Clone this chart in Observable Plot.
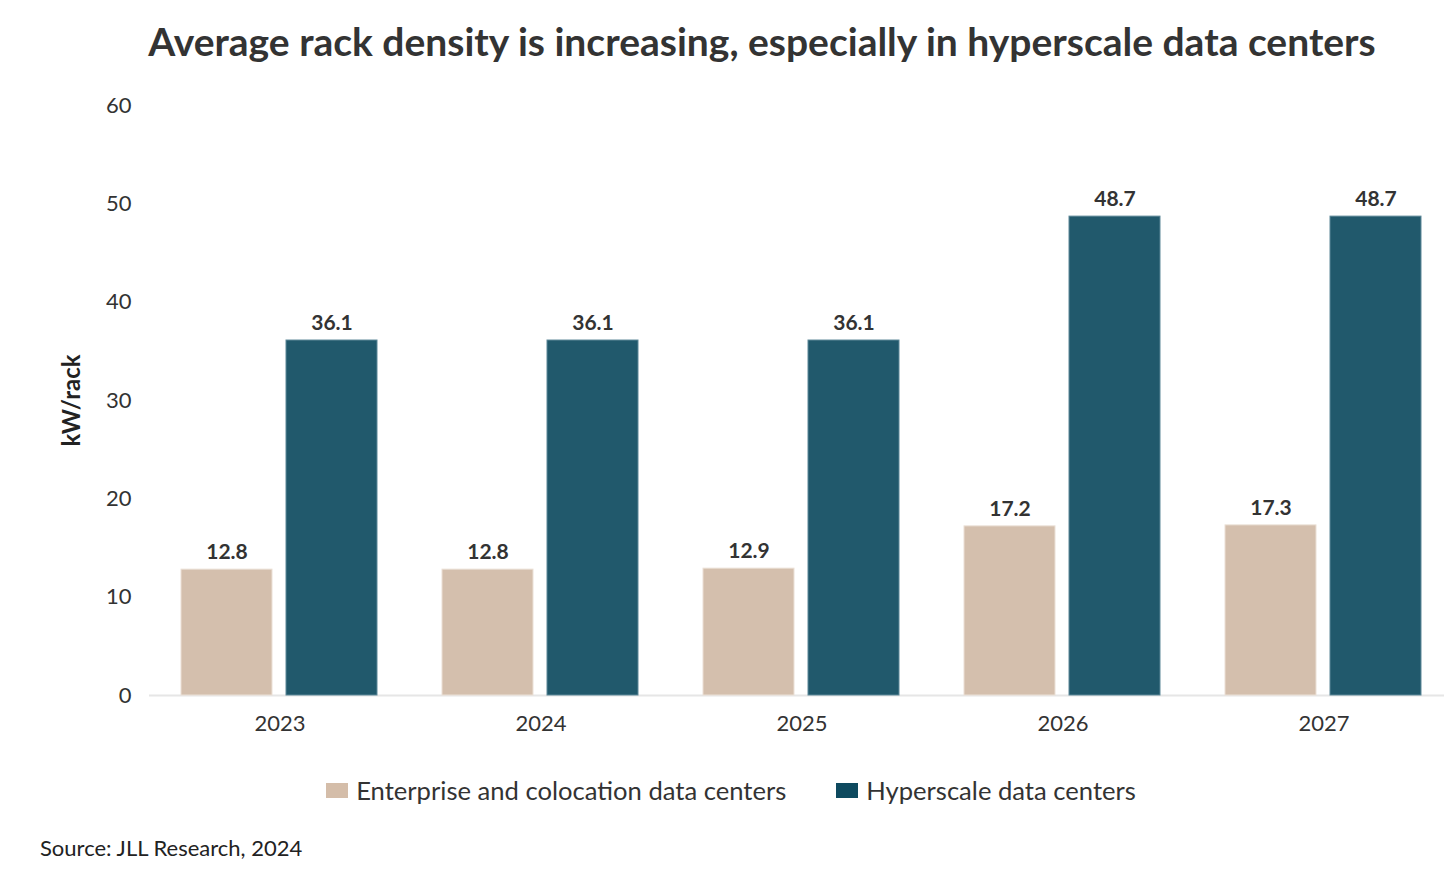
<!DOCTYPE html>
<html>
<head>
<meta charset="utf-8">
<script src="https://cdn.jsdelivr.net/npm/d3@7"></script>
<script src="https://cdn.jsdelivr.net/npm/@observablehq/plot@0.6"></script>
<style>
  body { margin: 0; background: #fff; font-family: Lato, "Noto Sans", sans-serif; color: #333; width: 1444px; height: 884px; overflow: hidden; position: relative; }
  #title { height: 84px; line-height: 82px; text-align: center; font-weight: bold; font-size: 39px; color: #333; padding-left: 80px; box-sizing: border-box; white-space: nowrap; width: 1444px; }
  #chart { width: 1444px; overflow: hidden; }
  #chart svg { display: block; max-width: none !important; }
  #chart svg [aria-label="y-axis label"] text, #chart svg g[aria-label="y-axis label"] { font-weight: bold; font-size: 24px; fill: #222; }
  #legend { display: flex; justify-content: center; align-items: center; gap: 50px; margin-top: 29px; font-size: 25.6px; color: #333; padding-left: 18px; width: 1444px; box-sizing: border-box; }
  #legend .item { display: flex; align-items: center; gap: 8px; }
  #legend .sw { width: 22px; height: 15px; display: inline-block; }
  #source { position: absolute; left: 40px; top: 834px; font-size: 22px; color: #222; }
</style>
</head>
<body>
<div id="title">Average rack density is increasing, especially in hyperscale data centers</div>
<div id="chart"></div>
<div id="legend"></div>
<div id="source">Source: JLL Research, 2024</div>
<script>
const years = ["2023", "2024", "2025", "2026", "2027"];
const seriesNames = ["Enterprise and colocation data centers", "Hyperscale data centers"];
const enterprise = [12.8, 12.8, 12.9, 17.2, 17.3];
const hyperscale = [36.1, 36.1, 36.1, 48.7, 48.7];
const yTicks = [0, 10, 20, 30, 40, 50, 60];
const barColors = ["#d4bfad", "#21596c"];
const swatchColors = ["#d4bda9", "#0e4a5f"];

const data = [];
years.forEach((y, i) => {
  data.push({year: y, series: seriesNames[0], value: enterprise[i]});
  data.push({year: y, series: seriesNames[1], value: hyperscale[i]});
});

const chart = Plot.plot({
  width: 1454,
  height: 662,
  marginTop: 21,
  marginBottom: 51,
  marginLeft: 148,
  marginRight: 0,
  style: {fontFamily: "Lato, 'Noto Sans', sans-serif", fontSize: "22px", color: "#333", maxWidth: "none"},
  fx: {domain: years, padding: 0, axis: "bottom", tickSize: 0, tickPadding: 20, label: null},
  x: {domain: seriesNames, paddingInner: 0.133, paddingOuter: 0.3, axis: null},
  y: {domain: [0, 60], ticks: yTicks, tickSize: 0, tickPadding: 18, label: "kW/rack", labelAnchor: "center", labelOffset: 87, labelArrow: "none"},
  color: {domain: seriesNames, range: barColors},
  marks: [
    Plot.ruleY([0], {stroke: "#e6e6e6", strokeWidth: 2}),
    Plot.barY(data, {fx: "year", x: "series", y: "value", fill: "series", stroke: d => d.series === seriesNames[0] ? "#ebe0d6" : "#5d8898", strokeWidth: 1}),
    Plot.text(data, {fx: "year", x: "series", y: "value", text: d => d.value.toFixed(1), dy: -17, fontWeight: "bold", fontSize: 21, fill: "#333"})
  ]
});
document.getElementById("chart").appendChild(chart);

const legend = document.getElementById("legend");
seriesNames.forEach((s, i) => {
  const item = document.createElement("div");
  item.className = "item";
  const sw = document.createElement("span");
  sw.className = "sw";
  sw.style.background = swatchColors[i];
  const t = document.createElement("span");
  t.textContent = s;
  item.appendChild(sw);
  item.appendChild(t);
  legend.appendChild(item);
});
</script>
</body>
</html>
